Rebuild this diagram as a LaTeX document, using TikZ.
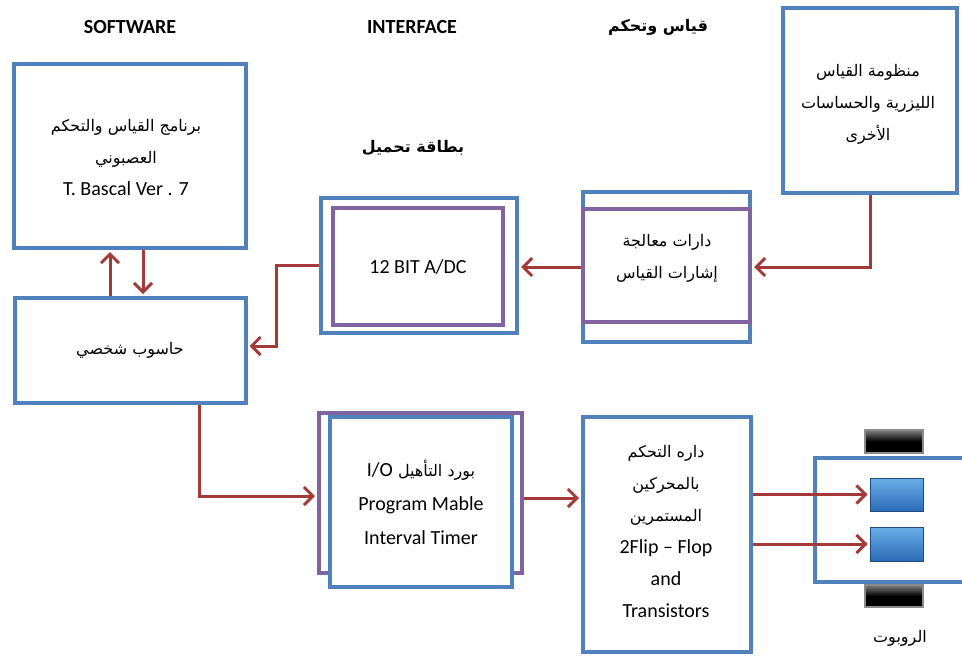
\documentclass[tikz,border=0pt]{standalone}
\usepackage{fontspec}
\setmainfont{Carlito}
\newfontfamily\ar[Script=Arabic,Scale=0.8]{DejaVu Sans}
\TeXXeTstate=1
\usetikzlibrary{arrows.meta,calc}
\definecolor{boxblue}{HTML}{4F81BD}
\definecolor{boxpurple}{HTML}{8064A2}
\definecolor{linkred}{HTML}{A33A37}
\definecolor{motortop}{HTML}{6AAEE8}
\definecolor{motorbot}{HTML}{2C6CB8}
\newcommand\rtl[1]{{\ar\beginR #1\endR}}
\tikzset{
  bluebox/.style={draw=boxblue, line width=4pt, fill=white, inner sep=0pt},
  purplebox/.style={draw=boxpurple, line width=4pt, inner sep=0pt},
  txt/.style={align=center, font=\fontsize{20}{32}\selectfont, inner sep=0pt},
  hdr/.style={font=\bfseries\fontsize{20}{24}\selectfont, inner sep=0pt},
  link/.style={draw=linkred, line width=3pt, shorten >=2pt,
    -{Straight Barb[length=9pt,width=18pt]}},
  wheel/.style={draw=black!45, line width=1.2pt, top color=black!50,
    bottom color=black, middle color=black, inner sep=0pt},
  motor/.style={draw=motorbot!70!black, line width=1pt, top color=motortop,
    bottom color=motorbot, inner sep=0pt},
}
\begin{document}
\begin{tikzpicture}[x=1pt,y=-1pt]
\useasboundingbox (0,0) rectangle (962,656);
\clip (0,0) rectangle (962,656);

% column headings
\node[hdr] (hsw) at (130,27) {SOFTWARE};
\node[hdr] (hif) at (412,27) {INTERFACE};
\node[hdr] (hmc) at (658,27) {\rtl{قياس وتحكم}};
\node[hdr] (hcard) at (413,148) {\rtl{بطاقة تحميل}};

% software and computer
\node[bluebox, minimum width=232, minimum height=184] (sw) at (130,156) {};
\node[txt] (swtxt) at (126,157)
  {\rtl{برنامج القياس والتحكم}\\ \rtl{العصبوني}\\ T. Bascal Ver . 7};
\node[bluebox, txt, minimum width=231, minimum height=105] (pc) at (130,350.5)
  {\rtl{حاسوب شخصي}};

% A/D converter card
\node[bluebox, minimum width=196, minimum height=135] (adcout) at (419,265.5) {};
\node[purplebox, txt, minimum width=170, minimum height=117] (adc) at (418,266.5)
  {12 BIT A/DC};

% signal conditioning
\node[bluebox, minimum width=167, minimum height=150] (sig) at (666.5,267) {};
\node[purplebox, minimum width=167, minimum height=113] (sigin) at (666.5,265.5) {};
\node[txt] (sigtxt) at (667,258) {\rtl{دارات معالجة}\\ \rtl{إشارات القياس}};

% sensors
\node[bluebox, minimum width=174, minimum height=185] (sensor) at (870,100.5) {};
\node[txt] (sensortxt) at (868,104)
  {\rtl{منظومة القياس}\\ \rtl{الليزرية والحساسات}\\ \rtl{الأخرى}};

% I/O timer board
\node[purplebox, minimum width=203, minimum height=160] (iop) at (420.5,493) {};
\node[bluebox, txt, minimum width=182, minimum height=170, font=\fontsize{20}{34}\selectfont]
  (io) at (421,502)
  {\rtl{بورد التأهيل \beginL{\rmfamily I/O}\endL}\\ Program Mable\\ Interval Timer};

% motor driver
\node[bluebox, minimum width=168, minimum height=235] (ctrl) at (667,534.5) {};
\node[txt] (ctrltxt) at (666,531)
  {\rtl{داره التحكم}\\ \rtl{بالمحركين}\\ \rtl{المستمرين}\\ 2Flip -- Flop\\ and\\ Transistors};

% robot
\draw[boxblue, line width=4pt] (970,458) -- (815,458) -- (815,582) -- (970,582);
\node[wheel, minimum width=58, minimum height=23] (w1) at (894,441.5) {};
\node[wheel, minimum width=58, minimum height=22] (w2) at (894,596) {};
\node[motor, minimum width=53, minimum height=33] (m1) at (896.5,494.5) {};
\node[motor, minimum width=53, minimum height=34] (m2) at (896.5,544) {};
\node[txt] (robot) at (900,638) {\rtl{الروبوت}};

% connections
\draw[link] (sensor.south) |- (sig.east);
\draw[link] (sig.west) -- (sig.west -| adcout.east);
\draw[link] (adcout.west) -- ++(-43,0) |- ([yshift=4.5pt]pc.east);
\draw[link] ([xshift=-20pt]pc.north) -- ([xshift=-20pt]pc.north |- sw.south);
\draw[link] ([xshift=13pt]sw.south) -- ([xshift=13pt]sw.south |- pc.north);
\draw[link] ([xshift=69pt]pc.south) |- ([yshift=-3pt]iop.west);
\draw[link] ([yshift=-5pt]iop.east) -- ([yshift=-5pt]iop.east -| ctrl.west);
\draw[link] (m1.west -| ctrl.east) -- (m1.west);
\draw[link] (m2.west -| ctrl.east) -- (m2.west);
\end{tikzpicture}
\end{document}
